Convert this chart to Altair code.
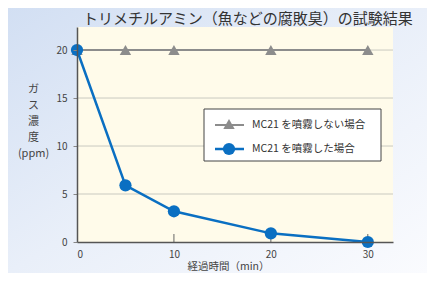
import altair as alt
import pandas as pd

FONT = "Noto Sans CJK JP"

minutes = [0, 5, 10, 20, 30]
no_spray = [20, 20, 20, 20, 20]
spray = [20, 5.9, 3.2, 0.9, 0.0]
series_names = ["MC21 を噴霧しない場合", "MC21 を噴霧した場合"]
series_colors = ["#8c8c8c", "#0a6fc2"]
x_ticks = [0, 10, 20, 30]
y_ticks = [0, 5, 10, 15, 20]
title_text = "トリメチルアミン（魚などの腐敗臭）の試験結果"
x_title = "経過時間（min）"
y_title = ["ガ", "ス", "濃", "度", "(ppm)"]

W, H = 316, 215
PL, PT, PR, PB = 69, 19, 34, 31

df = pd.DataFrame({
    "t": minutes * 2,
    "v": no_spray + spray,
    "s": [series_names[0]] * len(minutes) + [series_names[1]] * len(minutes),
})

xs = alt.Scale(domain=[0, 32.6], nice=False, zero=False)
ys = alt.Scale(domain=[0, 22.4], nice=False)

x_axis = alt.Axis(values=x_ticks, grid=False, tickSize=0, labelPadding=7, zindex=1,
                  labelFontSize=10, labelColor="#444", labelFont=FONT,
                  domainColor="#555", domainWidth=1.5,
                  title=x_title, titleFont=FONT, titleFontSize=10.5, titleFontWeight="normal",
                  titleColor="#444", titleX=151, titleY=19, titleBaseline="top",
                  titleAnchor="start", titleAlign="center")
y_axis = alt.Axis(values=y_ticks, grid=False, zindex=1,
                  tickSize=4, tickColor="#888", labelPadding=6,
                  labelFontSize=10, labelColor="#444", labelFont=FONT,
                  domainColor="#555", domainWidth=1.5,
                  title=y_title, titleAngle=0, titleFont=FONT, titleFontSize=11,
                  titleFontWeight="normal", titleColor="#444", titleLineHeight=16,
                  titleX=-44, titleY=56, titleAlign="center", titleBaseline="top")

one = pd.DataFrame({"a": [0]})

bg = alt.Chart(one).mark_rect(
    fill=alt.Gradient(gradient="linear", x1=0, y1=0, x2=1, y2=1,
                      stops=[alt.GradientStop(color="#d2dff3", offset=0),
                             alt.GradientStop(color="#e9eff9", offset=0.5),
                             alt.GradientStop(color="#fafbfe", offset=1)])).encode(
    x=alt.value(-PL), x2=alt.value(W + PR), y=alt.value(-PT), y2=alt.value(H + PB))
plot_bg = alt.Chart(one).mark_rect(fill="#fffbea").encode(
    x=alt.value(0), x2=alt.value(W), y=alt.value(0), y2=alt.value(H))

title_mark = alt.Chart(pd.DataFrame({"txt": [title_text]})).mark_text(
    align="left", baseline="alphabetic", font=FONT, fontSize=15, color="#333").encode(
    x=alt.value(6), y=alt.value(-3), text="txt:N")

grid = alt.Chart(pd.DataFrame({"g": y_ticks[1:]})).mark_rule(
    color="#c9c9c0", strokeWidth=1).encode(
    y=alt.Y("g:Q", scale=ys), x=alt.value(0), x2=alt.value(W))

base = alt.Chart(df)
gray = base.transform_filter(alt.datum.s == series_names[0])
blue = base.transform_filter(alt.datum.s == series_names[1])

gray_line = gray.mark_line(color=series_colors[0], strokeWidth=2).encode(
    x=alt.X("t:Q", scale=xs, axis=x_axis), y=alt.Y("v:Q", scale=ys, axis=y_axis))
gray_pts = gray.mark_point(shape="triangle-up", filled=True, opacity=1,
                           color=series_colors[0], size=130).encode(
    x=alt.X("t:Q", scale=xs), y=alt.Y("v:Q", scale=ys))
blue_line = blue.mark_line(color=series_colors[1], strokeWidth=2.5).encode(
    x=alt.X("t:Q", scale=xs), y=alt.Y("v:Q", scale=ys))
blue_pts = blue.mark_point(shape="circle", filled=True, opacity=1,
                           color=series_colors[1], size=150).encode(
    x=alt.X("t:Q", scale=xs), y=alt.Y("v:Q", scale=ys))

ticks_df = pd.DataFrame({"t": x_ticks[1:]})
inner_ticks = alt.Chart(ticks_df).mark_rule(color="#666", strokeWidth=1).encode(
    x=alt.X("t:Q", scale=xs), y=alt.value(H - 8), y2=alt.value(H))

box = alt.Chart(one).mark_rect(fill="white", stroke="#444", strokeWidth=1).encode(
    x=alt.value(127), x2=alt.value(304), y=alt.value(82), y2=alt.value(134))
leg_line0 = alt.Chart(one).mark_rule(color=series_colors[0], strokeWidth=2).encode(
    x=alt.value(138), x2=alt.value(167), y=alt.value(98))
leg_line1 = alt.Chart(one).mark_rule(color=series_colors[1], strokeWidth=2.5).encode(
    x=alt.value(138), x2=alt.value(167), y=alt.value(122))
leg_pt0 = alt.Chart(one).mark_point(
    shape="triangle-up", filled=True, opacity=1, color=series_colors[0], size=130).encode(
    x=alt.value(152), y=alt.value(97))
leg_pt1 = alt.Chart(one).mark_point(
    shape="circle", filled=True, opacity=1, color=series_colors[1], size=150).encode(
    x=alt.value(152), y=alt.value(122))
leg_txt0 = alt.Chart(pd.DataFrame({"name": [series_names[0]]})).mark_text(
    align="left", baseline="middle", font=FONT, fontSize=10.5, color="#333").encode(
    x=alt.value(175), y=alt.value(98), text="name:N")
leg_txt1 = alt.Chart(pd.DataFrame({"name": [series_names[1]]})).mark_text(
    align="left", baseline="middle", font=FONT, fontSize=10.5, color="#333").encode(
    x=alt.value(175), y=alt.value(122), text="name:N")

chart = alt.layer(
    bg, plot_bg, title_mark, grid, gray_line, inner_ticks, blue_line, gray_pts, blue_pts,
    box, leg_line0, leg_line1, leg_pt0, leg_pt1, leg_txt0, leg_txt1,
).properties(
    width=W, height=H,
    autosize=alt.AutoSizeParams(type="none"),
    padding={"left": PL, "top": PT, "right": PR, "bottom": PB},
    background="#e3eaf6",
).configure_view(fill="#fffbea", stroke=None)

chart.save("out.html", embed_options={"renderer": "svg", "actions": False})
